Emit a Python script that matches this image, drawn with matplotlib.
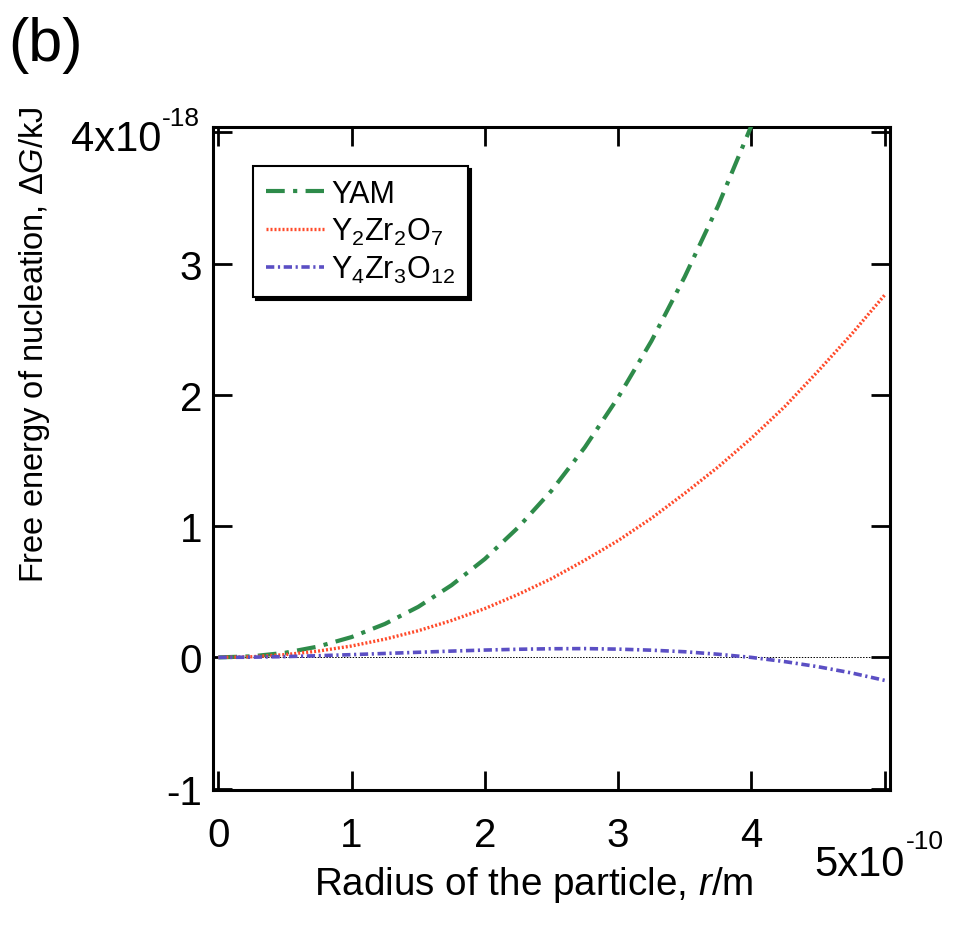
import matplotlib
matplotlib.use("Agg")
import matplotlib.pyplot as plt
import numpy as np

plt.rcParams['font.family'] = ['Liberation Sans', 'DejaVu Sans']
plt.rcParams['mathtext.fontset'] = 'custom'
plt.rcParams['mathtext.rm'] = 'Liberation Sans'
plt.rcParams['mathtext.it'] = 'Liberation Sans:italic'
plt.rcParams['mathtext.bf'] = 'Liberation Sans:bold'

# radius in units of 1e-10 m
radius = [0, 0.25, 0.5, 0.75, 1.0, 1.25, 1.5, 1.75, 2.0, 2.25, 2.5,
          2.75, 3.0, 3.25, 3.5, 3.75, 4.0, 4.25, 4.5, 4.75, 5.0]
# Free energy in units of 1e-18 kJ
yam = [0, 0.008, 0.035, 0.083, 0.155, 0.255, 0.385, 0.55, 0.75, 0.99, 1.27,
       1.60, 1.98, 2.41, 2.90, 3.44, 4.05]
y2zr2o7 = [0, 0.005, 0.021, 0.048, 0.087, 0.139, 0.203, 0.281, 0.372, 0.48, 0.60,
           0.74, 0.89, 1.06, 1.25, 1.45, 1.67, 1.91, 2.18, 2.46, 2.76]
y4zr3o12 = [0, 0.0016, 0.0061, 0.0128, 0.021, 0.030, 0.039, 0.048, 0.056, 0.062, 0.066,
            0.067, 0.063, 0.055, 0.043, 0.024, 0.0, -0.032, -0.071, -0.118, -0.175]

xticks = [0, 1, 2, 3, 4, 5]
yticks = [-1, 0, 1, 2, 3, 4]

fig = plt.figure(figsize=(9.58, 9.29), dpi=100)
ax = fig.add_axes([213/958, 1-791/929, (890-213)/958, (791-128)/929])

ax.plot([0, 5], [0, 0], color='black', lw=0.7, ls=(0, (1.5, 1.5)), zorder=1)
ax.plot(radius[:len(yam)], yam, color='#2e8b4a', lw=3.0,
        ls=(0, (4.5, 2, 1, 2)), label='YAM', zorder=3)
ax.plot(radius, y2zr2o7, color='#ff4a2a', lw=2.4,
        ls=(0, (0.6, 0.6)), label='Y$_2$Zr$_2$O$_7$', zorder=3)
ax.plot(radius, y4zr3o12, color='#5b4fc4', lw=2.6,
        ls=(0, (2.3, 1.0, 0.6, 1.0)), label='Y$_4$Zr$_3$O$_{12}$', zorder=3)

ax.set_xlim(-0.04, 5.04)
ax.set_ylim(-1.01, 4.04)
ax.set_xticks(xticks)
ax.set_yticks(yticks)
ax.set_xticklabels(['0', '1', '2', '3', '4', ''])
ax.set_yticklabels(['-1', '0', '1', '2', '3', ''])
ax.tick_params(direction='in', length=14, width=2, labelsize=29,
               top=True, right=True)
ax.tick_params(axis='x', pad=19)
ax.tick_params(axis='y', pad=8)
for s in ax.spines.values():
    s.set_linewidth(2.2)

# exponent labels on the end ticks
fig.text(161/958, 1-140/929, '4x10', fontsize=30, ha='right', va='center')
fig.text(162/958, 1-119/929, '-18', fontsize=19, ha='left', va='center')
fig.text(905/958, 1-865/929, '5x10', fontsize=30, ha='right', va='center')
fig.text(906/958, 1-842/929, '-10', fontsize=19, ha='left', va='center')

fig.text(8/958, 1-46/929, '(b)', fontsize=44, ha='left', va='center')
fig.text(534/958, 1-885/929, 'Radius of the particle, $\\it{r}$/m',
         fontsize=27.8, ha='center', va='center')
fig.text(35/958, 1-345/929, 'Free energy of nucleation, $\\it{\\Delta G}$/kJ',
         fontsize=23.5, ha='center', va='center', rotation=90)

leg = ax.legend(loc='upper left', bbox_to_anchor=(0.059, 0.941), borderaxespad=0,
                fontsize=22, frameon=True, fancybox=False,
                shadow={'color': 'black', 'alpha': 1.0},
                handlelength=1.9, handletextpad=0.25, labelspacing=0.22,
                borderpad=0.42)
leg.get_frame().set_edgecolor('black')
leg.get_frame().set_linewidth(1.5)

fig.savefig('out.png', dpi=100)
